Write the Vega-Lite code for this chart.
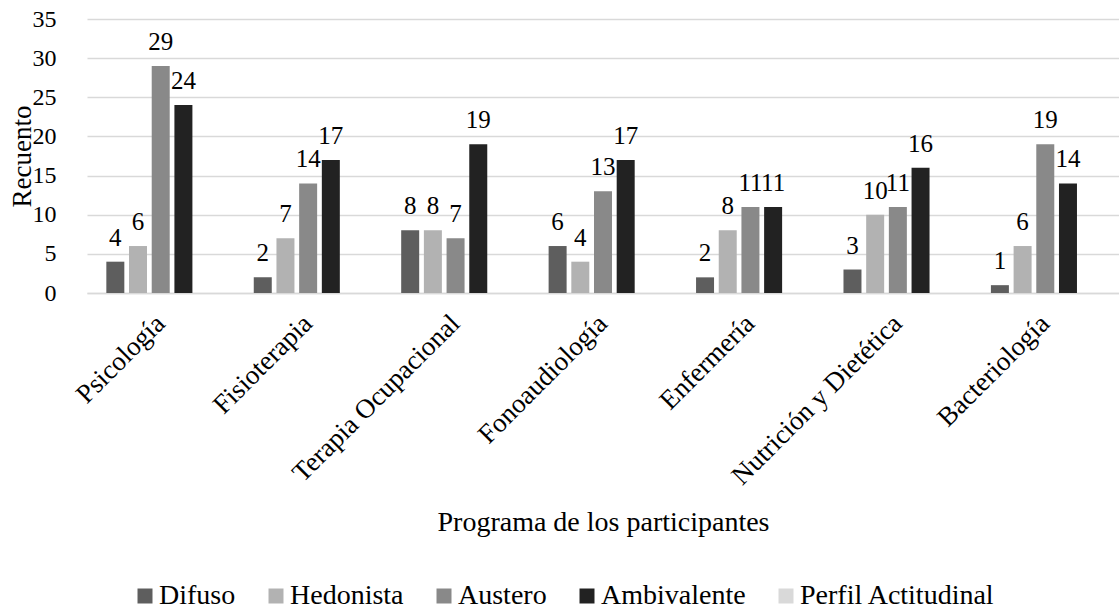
{
  "$schema": "https://vega.github.io/schema/vega-lite/v6.json",
  "width": 1032,
  "height": 274,
  "autosize": {"type": "none"},
  "padding": {"left": 87, "top": 19, "right": 0, "bottom": 317},
  "background": "white",
  "config": {
    "font": "Liberation Serif",
    "view": {"stroke": null},
    "text": {"font": "Liberation Serif"},
    "axis": {"labelColor": "#000000", "titleColor": "#000000", "titleFontWeight": "normal", "labelFont": "Liberation Serif", "titleFont": "Liberation Serif"},
    "legend": {"labelFont": "Liberation Serif", "labelColor": "#000000", "titleFont": "Liberation Serif"}
  },
  "data": {
    "values": [
      {"programa": "Psicología", "perfil": "Difuso", "recuento": 4},
      {"programa": "Psicología", "perfil": "Hedonista", "recuento": 6},
      {"programa": "Psicología", "perfil": "Austero", "recuento": 29},
      {"programa": "Psicología", "perfil": "Ambivalente", "recuento": 24},
      {"programa": "Fisioterapia", "perfil": "Difuso", "recuento": 2},
      {"programa": "Fisioterapia", "perfil": "Hedonista", "recuento": 7},
      {"programa": "Fisioterapia", "perfil": "Austero", "recuento": 14},
      {"programa": "Fisioterapia", "perfil": "Ambivalente", "recuento": 17},
      {"programa": "Terapia Ocupacional", "perfil": "Difuso", "recuento": 8},
      {"programa": "Terapia Ocupacional", "perfil": "Hedonista", "recuento": 8},
      {"programa": "Terapia Ocupacional", "perfil": "Austero", "recuento": 7},
      {"programa": "Terapia Ocupacional", "perfil": "Ambivalente", "recuento": 19},
      {"programa": "Fonoaudiología", "perfil": "Difuso", "recuento": 6},
      {"programa": "Fonoaudiología", "perfil": "Hedonista", "recuento": 4},
      {"programa": "Fonoaudiología", "perfil": "Austero", "recuento": 13},
      {"programa": "Fonoaudiología", "perfil": "Ambivalente", "recuento": 17},
      {"programa": "Enfermería", "perfil": "Difuso", "recuento": 2},
      {"programa": "Enfermería", "perfil": "Hedonista", "recuento": 8},
      {"programa": "Enfermería", "perfil": "Austero", "recuento": 11},
      {"programa": "Enfermería", "perfil": "Ambivalente", "recuento": 11},
      {"programa": "Nutrición y Dietética", "perfil": "Difuso", "recuento": 3},
      {"programa": "Nutrición y Dietética", "perfil": "Hedonista", "recuento": 10},
      {"programa": "Nutrición y Dietética", "perfil": "Austero", "recuento": 11},
      {"programa": "Nutrición y Dietética", "perfil": "Ambivalente", "recuento": 16},
      {"programa": "Bacteriología", "perfil": "Difuso", "recuento": 1},
      {"programa": "Bacteriología", "perfil": "Hedonista", "recuento": 6},
      {"programa": "Bacteriología", "perfil": "Austero", "recuento": 19},
      {"programa": "Bacteriología", "perfil": "Ambivalente", "recuento": 14}
    ]
  },
  "encoding": {
    "x": {
      "field": "programa",
      "type": "nominal",
      "sort": null,
      "scale": {"paddingInner": 0, "paddingOuter": 0},
      "axis": {
        "title": "Programa de los participantes",
        "titleFontSize": 28,
        "titleY": 229,
        "titleBaseline": "middle",
        "labelAngle": -45,
        "labelAlign": "right",
        "labelBaseline": "middle",
        "labelFontSize": 27,
        "labelPadding": 26,
        "labelLimit": 500,
        "ticks": false,
        "tickSize": 0,
        "domain": true,
        "domainColor": "#d9d9d9",
        "domainWidth": 1.5,
        "grid": false
      }
    },
    "xOffset": {
      "field": "perfil",
      "type": "nominal",
      "scale": {
        "domain": ["Difuso", "Hedonista", "Austero", "Ambivalente", "Perfil Actitudinal"],
        "paddingInner": 0.207,
        "paddingOuter": 0.852
      }
    },
    "y": {
      "field": "recuento",
      "type": "quantitative",
      "scale": {"domain": [0, 35], "nice": false},
      "axis": {
        "title": "Recuento",
        "titleFontSize": 27,
        "titleX": -65,
        "titleBaseline": "middle",
        "labelFontSize": 24,
        "labelPadding": 31,
        "tickSize": 0,
        "ticks": false,
        "domain": false,
        "values": [0, 5, 10, 15, 20, 25, 30, 35],
        "grid": true,
        "gridColor": "#d9d9d9",
        "gridWidth": 1.5
      }
    }
  },
  "layer": [
    {
      "mark": {"type": "bar"},
      "encoding": {
        "color": {
          "field": "perfil",
          "type": "nominal",
          "scale": {
            "domain": ["Difuso", "Hedonista", "Austero", "Ambivalente", "Perfil Actitudinal"],
            "range": ["#5e5e5e", "#b2b2b2", "#898989", "#222222", "#d9d9d9"]
          },
          "legend": {
            "title": null,
            "orient": "none",
            "direction": "horizontal",
            "legendX": 44,
            "legendY": 563,
            "symbolType": "square",
            "symbolSize": 225,
            "symbolStrokeWidth": 0,
            "labelFontSize": 28,
            "labelLimit": 400,
            "labelOffset": 0,
            "columnPadding": 26
          }
        }
      }
    },
    {
      "mark": {"type": "text", "baseline": "alphabetic", "dy": -16, "fontSize": 25, "color": "#000000"},
      "encoding": {
        "text": {"field": "recuento", "type": "quantitative"}
      }
    }
  ]
}
